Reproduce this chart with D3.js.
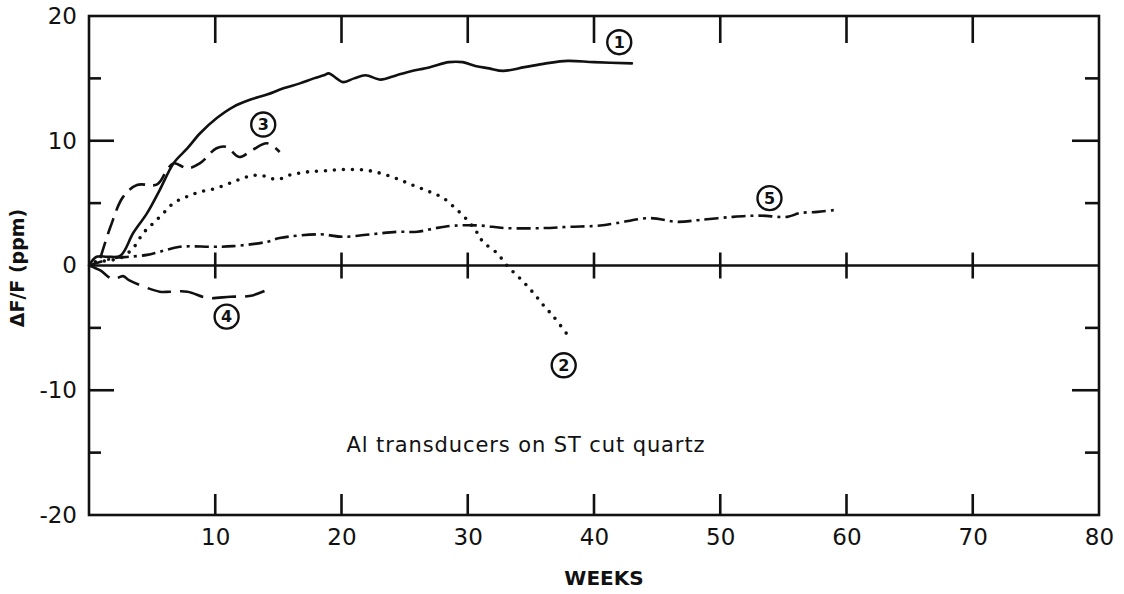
<!DOCTYPE html>
<html><head><meta charset="utf-8">
<script src="https://cdn.jsdelivr.net/npm/d3@7/dist/d3.min.js"></script>
<style>
html,body{margin:0;padding:0;background:#fff;}
svg{display:block;}
text{font-family:"DejaVu Sans",sans-serif;fill:#111;}
</style></head>
<body>
<svg id="chart" width="1124" height="594"></svg>
<script>
// ---- data (weeks, ΔF/F ppm) ----
const xTickValues = [10,20,30,40,50,60,70,80];
const yTickLabels = [20,10,0,-10,-20];
const yMinorTicks = [15,5,-5,-15];

const c1Weeks = [0,0.6,1.5,2.5,3.5,4.6,5.6,6.7,7.8,8.8,10.1,11.4,12.8,14.1,15.4,16.7,17.8,18.6,19.0,19.6,20.1,21.0,21.9,23.1,24.2,25.2,27.0,28.5,29.6,30.6,31.7,32.8,34.5,36.2,37.9,40.0,43.0];
const c1Vals  = [0,0.7,0.7,0.8,2.6,4.2,6.05,8.2,9.4,10.6,11.8,12.7,13.3,13.7,14.2,14.6,15.0,15.25,15.4,15.0,14.7,15.0,15.25,14.9,15.2,15.5,15.9,16.3,16.3,16.0,15.8,15.6,15.9,16.2,16.4,16.3,16.2];

const c2Weeks = [0.5,1.5,2.5,3.5,4.3,5.1,5.9,6.7,7.7,8.8,10.1,11.4,12.5,13.5,14.9,15.9,17.3,18.8,20.4,22.2,24.0,25.5,27.0,28.0,29.0,30.0,30.7,31.2,32.3,33.2,34.3,35.2,36.0,36.8,38.0];
const c2Vals  = [0.3,0.4,0.6,1.4,2.6,3.4,4.2,5.0,5.5,5.9,6.2,6.7,7.1,7.25,6.9,7.25,7.5,7.6,7.7,7.6,7.1,6.5,5.9,5.45,4.6,3.6,2.7,1.9,1.0,-0.1,-1.2,-2.2,-3.2,-4.1,-5.7];

const c3Weeks = [0.9,1.7,2.7,3.8,5.4,6.2,6.7,7.8,8.8,10.1,10.9,11.9,13.0,14.1,15.1];
const c3Vals  = [0.6,3.1,5.5,6.45,6.5,7.7,8.2,7.8,8.2,9.4,9.5,8.7,9.3,9.8,9.1];

const c4Weeks = [0,0.9,1.9,2.7,3.2,5.6,6.4,7.8,9.4,11.2,12.7,13.9];
const c4Vals  = [0,-0.4,-1.1,-0.85,-1.2,-2.1,-2.1,-2.1,-2.6,-2.5,-2.45,-2.05];

const c5Weeks = [0,2.0,3.2,4.6,5.6,7.2,9.8,11.4,14.1,15.1,18.3,20.1,22.3,24.4,26.0,27.5,29.0,31.0,33.0,36.0,38.0,40.5,41.8,44.4,46.6,48.4,51.0,53.1,55.3,56.3,57.7,59.1];
const c5Vals  = [0,0.6,0.7,0.85,1.1,1.5,1.5,1.55,1.9,2.2,2.5,2.3,2.5,2.7,2.7,3.0,3.2,3.2,3.0,3.0,3.1,3.2,3.4,3.8,3.5,3.65,3.9,4.0,3.9,4.2,4.3,4.45];

const curveLabels = ["1","2","3","4","5"];
const labelWeeks = [42.0,37.6,13.8,10.9,53.9];
const labelVals  = [17.9,-8.0,11.3,-4.1,5.4];

const xLabel = "WEEKS";
const yLabel = "ΔF/F (ppm)";
const note = "Al transducers on ST cut quartz";

// ---- layout ----
const svg = d3.select("#chart");
const x = d3.scaleLinear().domain([0,80]).range([89,1099]);
const y = d3.scaleLinear().domain([-20,20]).range([515,16]);
const SW = 2.6;
const fmt = d => String(d); // plain hyphen-minus as in the original

// frame
svg.append("rect").attr("x",x(0)).attr("y",y(20)).attr("width",x(80)-x(0)).attr("height",y(-20)-y(20))
  .attr("fill","none").attr("stroke","#111").attr("stroke-width",SW);
// zero line
svg.append("line").attr("x1",x(0)).attr("x2",x(80)).attr("y1",y(0)).attr("y2",y(0))
  .attr("stroke","#111").attr("stroke-width",SW);

const inner = xTickValues.filter(d=>d<80);
// top ticks
svg.selectAll(".tt").data(inner).join("line")
  .attr("x1",d=>x(d)).attr("x2",d=>x(d)).attr("y1",y(20)).attr("y2",y(20)+27)
  .attr("stroke","#111").attr("stroke-width",SW);
// zero-line crossing ticks
svg.selectAll(".zt").data(inner).join("line")
  .attr("x1",d=>x(d)).attr("x2",d=>x(d)).attr("y1",y(0)-13).attr("y2",y(0)+13)
  .attr("stroke","#111").attr("stroke-width",SW);

// bottom axis with inward ticks
const xAxis = d3.axisBottom(x).tickValues(xTickValues).tickSize(0).tickPadding(14).tickFormat(fmt);
const gx = svg.append("g").attr("transform",`translate(0,${y(-20)})`).call(xAxis);
gx.select(".domain").remove();
gx.selectAll("text").attr("font-size",23).attr("fill","#111").attr("dy","0.71em").style("font-family","'DejaVu Sans',sans-serif");
svg.selectAll(".bt").data(inner).join("line")
  .attr("x1",d=>x(d)).attr("x2",d=>x(d)).attr("y1",y(-20)).attr("y2",y(-20)-21)
  .attr("stroke","#111").attr("stroke-width",SW);

// left axis labels
const yAxis = d3.axisLeft(y).tickValues(yTickLabels).tickSize(0).tickPadding(12).tickFormat(fmt);
const gy = svg.append("g").attr("transform",`translate(${x(0)},0)`).call(yAxis);
gy.select(".domain").remove();
gy.selectAll("text").attr("font-size",23).attr("fill","#111").style("font-family","'DejaVu Sans',sans-serif");

// left & right inward ticks
const majorY = [10,-10], minorY = yMinorTicks;
[[majorY,25],[minorY,12]].forEach(([vals,len])=>{
  svg.selectAll(null).data(vals).join("line")
    .attr("x1",x(0)).attr("x2",x(0)+len).attr("y1",d=>y(d)).attr("y2",d=>y(d))
    .attr("stroke","#111").attr("stroke-width",SW);
  svg.selectAll(null).data(vals).join("line")
    .attr("x1",x(80)).attr("x2",x(80)-len-2).attr("y1",d=>y(d)).attr("y2",d=>y(d))
    .attr("stroke","#111").attr("stroke-width",SW);
});

// curves
const line = d3.line().x(d=>x(d[0])).y(d=>y(d[1])).curve(d3.curveCatmullRom.alpha(0.5));
const zip = (a,b)=>a.map((v,i)=>[v,b[i]]);
const series = [
  {w:c1Weeks,v:c1Vals,dash:null,cap:"round"},
  {w:c2Weeks,v:c2Vals,dash:"0 9",cap:"round",width:3.6},
  {w:c3Weeks,v:c3Vals,dash:"17 8",cap:"butt"},
  {w:c4Weeks,v:c4Vals,dash:"24 9",cap:"butt"},
  {w:c5Weeks,v:c5Vals,dash:"14 5 3 5",cap:"butt"}
];
series.forEach(s=>{
  svg.append("path").attr("d",line(zip(s.w,s.v))).attr("fill","none")
    .attr("stroke","#111").attr("stroke-width",s.width||2.6)
    .attr("stroke-linecap",s.cap).attr("stroke-linejoin","round")
    .attr("stroke-dasharray",s.dash);
});

// circled labels
const lg = svg.selectAll(".cl").data(curveLabels).join("g")
  .attr("transform",(d,i)=>`translate(${x(labelWeeks[i])},${y(labelVals[i])})`);
lg.append("circle").attr("r",12).attr("fill","#fff").attr("stroke","#111").attr("stroke-width",2.4);
lg.append("text").text(d=>d).attr("text-anchor","middle").attr("dy","0.36em")
  .attr("font-size",16).attr("font-weight","bold");

// titles
svg.append("text").attr("x",604).attr("y",585).attr("text-anchor","middle")
  .attr("font-size",20).attr("font-weight","bold").text(xLabel);
svg.append("text").attr("transform","translate(24,268) rotate(-90)").attr("text-anchor","middle")
  .attr("font-size",19).attr("font-weight","bold").text(yLabel);
svg.append("text").attr("x",526).attr("y",452).attr("text-anchor","middle")
  .attr("font-size",21).attr("letter-spacing",0.9).text(note);
</script>
</body></html>
